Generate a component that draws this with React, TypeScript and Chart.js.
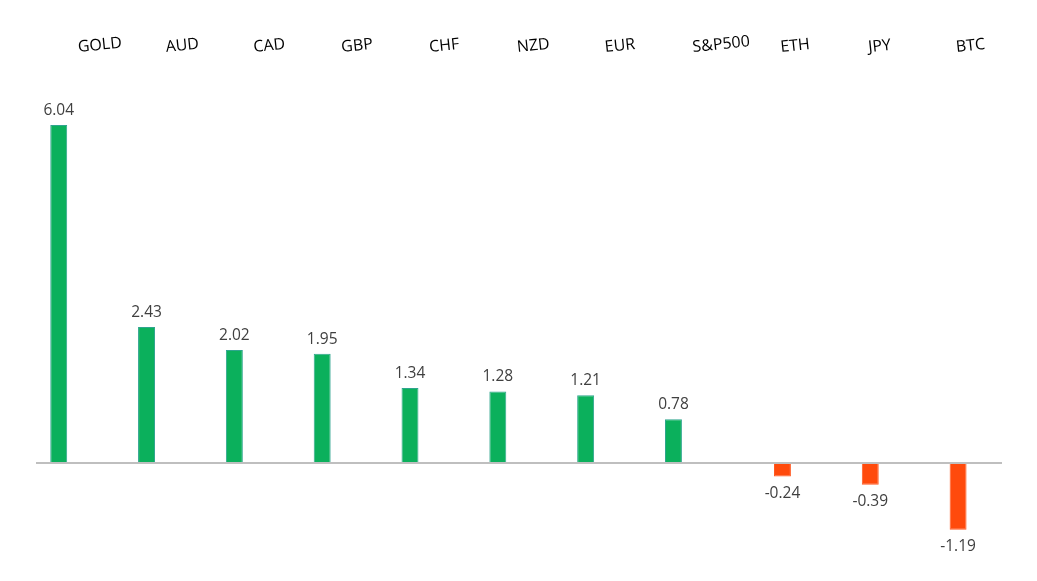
import React, { useEffect, useRef } from "react";
import { Chart, registerables } from "chart.js";

Chart.register(...registerables);

const categories = ["GOLD", "AUD", "CAD", "GBP", "CHF", "NZD", "EUR", "S&P500", "ETH", "JPY", "BTC"];
const changes = [6.04, 2.43, 2.02, 1.95, 1.34, 1.28, 1.21, 0.78, -0.24, -0.39, -1.19];
const yMin = -1.5;
const yMax = 7.18;

const GREEN = "#0bb05c";
const GREEN_EDGE = "#2fa58e";
const RED = "#ff4a0c";
const RED_EDGE = "#ff5a22";

const valueLabels = {
  id: "valueLabels",
  afterDatasetsDraw(chart: any) {
    const ctx = chart.ctx;
    ctx.save();
    ctx.font = "15.5px 'Open Sans'";
    ctx.fillStyle = "#404040";
    ctx.textAlign = "center";
    chart.data.datasets.forEach((ds: any, di: number) => {
      const meta = chart.getDatasetMeta(di);
      meta.data.forEach((el: any, i: number) => {
        const v = ds.data[i];
        if (v === null || v === undefined) return;
        if (v >= 0) {
          ctx.textBaseline = "bottom";
          ctx.fillText(v.toFixed(2), el.x, el.y - 7);
        } else {
          ctx.textBaseline = "top";
          ctx.fillText(v.toFixed(2), el.x, el.y + 9);
        }
      });
    });
    ctx.restore();
  },
};

export default function App() {
  const ref = useRef<HTMLCanvasElement | null>(null);
  useEffect(() => {
    document.body.style.margin = "0";
    const positive = changes.map((v) => (v >= 0 ? v : null));
    const negative = changes.map((v) => (v < 0 ? v : null));
    const spacer = changes.map(() => null);
    const chart = new Chart(ref.current as HTMLCanvasElement, {
      type: "bar",
      data: {
        labels: categories,
        datasets: [
          {
            label: "up",
            data: positive,
            backgroundColor: GREEN,
            borderColor: GREEN_EDGE,
            borderWidth: 1,
            categoryPercentage: 0.7235,
            barPercentage: 0.8,
          },
          {
            label: "down",
            data: negative,
            backgroundColor: RED,
            borderColor: RED_EDGE,
            borderWidth: 1,
            categoryPercentage: 0.7235,
            barPercentage: 0.8,
          },
          {
            label: "spacer",
            data: spacer,
            categoryPercentage: 0.7235,
            barPercentage: 0.8,
          },
        ],
      } as any,
      options: {
        animation: false,
        responsive: true,
        maintainAspectRatio: false,
        layout: { padding: { top: 28, bottom: 34, left: 36, right: 35 } },
        plugins: {
          legend: { display: false },
          tooltip: { enabled: false },
        },
        scales: {
          x: {
            position: "top",
            grid: { display: false, drawTicks: false },
            border: { display: false },
            ticks: {
              minRotation: 6,
              maxRotation: 6,
              padding: 4,
              color: "#000000",
              font: { family: "'Open Sans'", size: 16 },
              autoSkip: false,
            },
          },
          y: {
            display: true,
            min: yMin,
            max: yMax,
            border: { display: false },
            ticks: { display: false, stepSize: 0.5 },
            grid: {
              drawTicks: false,
              lineWidth: 2,
              color: (c: any) => (c.tick && c.tick.value === 0 ? "#bfbfbf" : "rgba(0,0,0,0)"),
            },
          },
        },
      } as any,
      plugins: [valueLabels],
    });
    return () => chart.destroy();
  }, []);
  return (
    <div style={{ width: 1037, height: 581, position: "relative" }}>
      <canvas ref={ref} />
    </div>
  );
}
